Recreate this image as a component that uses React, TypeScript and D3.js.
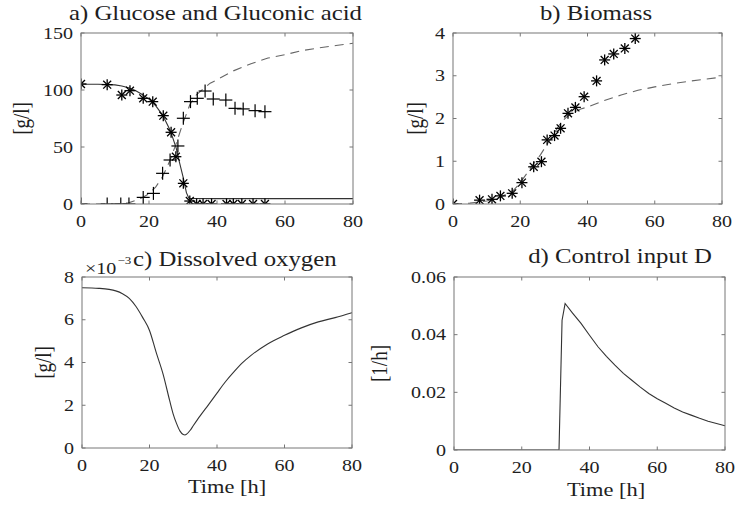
import React from "react";
import * as d3 from "d3";

// ---------- data ----------
const glucoseModelT = [0, 5, 10, 12, 14, 16, 18, 20, 22, 24, 26, 27, 28, 29, 30, 30.5, 31, 31.7, 32, 40, 50, 60, 70, 80];
const glucoseModelV = [105, 105, 104.5, 103.5, 102, 99.5, 96, 92, 86, 78, 66, 58, 49, 36, 24, 17, 10, 5.2, 4.8, 4.7, 4.7, 4.7, 4.7, 4.7];
const gluconicModelT = [0, 10, 12, 14, 16, 18, 20, 22, 24, 26, 28, 30, 32, 34, 36, 38, 40, 45, 50, 55, 60, 65, 70, 75, 80];
const gluconicModelV = [0, 0.1, 0.4, 1, 3, 5.5, 9, 15, 24, 37, 53, 71, 87, 96, 101, 106, 109, 117, 123, 128, 131, 134.5, 137, 139, 141];
const glucoseMeasT = [0, 7.7, 12, 14.4, 18.3, 21.1, 24.2, 26.5, 27.9, 30.1, 32, 34, 35.9, 38.4, 42.8, 44.8, 47.3, 50.6, 54.1];
const glucoseMeasV = [105.3, 104.7, 95.6, 99.4, 92.7, 89.8, 77.5, 62.9, 41.5, 18.1, 2.6, 0, 0, 0, 0, 0, 0, 0, 0];
const gluconicMeasT = [0, 7.7, 11.7, 14.1, 18.3, 21.3, 24, 26.2, 28.5, 30.1, 32.2, 34.2, 36.5, 38.9, 42.6, 45.3, 47.7, 51.2, 54.1];
const gluconicMeasV = [0, 0, 0, 0, 5.8, 9.3, 26.9, 38.6, 50.9, 75.2, 89.8, 92.7, 99.1, 92.1, 91.2, 83.9, 83.4, 81.9, 81];

const biomassModelT = [0, 5, 10, 14, 18, 20, 22, 24, 26, 28, 30, 32, 34, 36, 38, 40, 45, 50, 55, 60, 65, 70, 75, 80];
const biomassModelV = [0, 0.02, 0.07, 0.15, 0.32, 0.5, 0.72, 0.95, 1.15, 1.4, 1.64, 1.9, 2.05, 2.15, 2.22, 2.27, 2.42, 2.55, 2.66, 2.74, 2.81, 2.87, 2.92, 2.97];
const biomassMeasT = [0, 7.9, 11.6, 14.1, 17.6, 20.5, 24, 26.3, 28, 30.2, 32, 34.2, 36.4, 39, 42.7, 45.1, 47.8, 51.1, 54.2];
const biomassMeasV = [0, 0.09, 0.11, 0.19, 0.25, 0.5, 0.87, 0.99, 1.5, 1.6, 1.77, 2.12, 2.26, 2.51, 2.88, 3.37, 3.51, 3.64, 3.87];

const oxygenT = [0, 5, 8, 10, 12, 14, 16, 18, 20, 22, 24, 26, 27, 28, 29, 30, 30.5, 31, 32, 33, 35, 37.5, 40, 42.5, 45, 47.5, 50, 55, 60, 65, 70, 75, 80];
const oxygenV = [7.5, 7.47, 7.42, 7.35, 7.22, 7.0, 6.62, 6.1, 5.5, 4.46, 3.47, 2.2, 1.6, 1.15, 0.8, 0.63, 0.61, 0.65, 0.82, 1.05, 1.5, 2.03, 2.57, 3.1, 3.56, 3.98, 4.32, 4.87, 5.27, 5.62, 5.9, 6.1, 6.33];

const controlT = [0, 31, 31.9, 32.8, 35, 37.5, 40, 42.5, 45, 47.5, 50, 52.5, 55, 57.5, 60, 62.5, 65, 67.5, 70, 72.5, 75, 77.5, 80];
const controlV = [0, 0, 0.045, 0.0508, 0.0475, 0.0439, 0.0398, 0.0358, 0.0325, 0.0294, 0.0266, 0.0242, 0.0218, 0.0196, 0.0178, 0.0162, 0.0146, 0.0132, 0.0121, 0.011, 0.01, 0.0092, 0.0084];

const xTicks = [0, 20, 40, 60, 80];
const yTicksA = [0, 50, 100, 150];
const yTicksB = [0, 1, 2, 3, 4];
const yTicksC = [0, 2, 4, 6, 8];
const yTicksD = [0, 0.02, 0.04, 0.06];
const yTickLabelsD = ["0", "0.02", "0.04", "0.06"];

const titles = ["a) Glucose and Gluconic acid", "b) Biomass", "c) Dissolved oxygen", "d) Control input D"];

// ---------- styles ----------
const FONT = "Liberation Serif, Tinos, Times New Roman, DejaVu Serif, serif";
const TXT = "#1e1e1e";
const BOX = "#777";
const LINE = "#333";
const DASH = "#666";
const SX = 1.18;

type Box = { l: number; r: number; t: number; b: number };

function zip(t: number[], v: number[]) {
  return t.map((x, i) => [x, v[i]] as [number, number]);
}

function T({ x, y, size, anchor = "start", rot = false, children }: {
  x: number; y: number; size: number; anchor?: "start" | "middle" | "end"; rot?: boolean; children: React.ReactNode;
}) {
  return (
    <g transform={`translate(${x},${y}) scale(${SX},1)${rot ? " rotate(-90)" : ""}`}>
      <text x={0} y={0} textAnchor={anchor} dominantBaseline={rot ? "central" : undefined} fontFamily={FONT} fontSize={size} fill={TXT}>
        {children}
      </text>
    </g>
  );
}

function Asterisk({ x, y }: { x: number; y: number }) {
  const r = 5.5;
  const d = r * 0.72;
  return (
    <g stroke="#000" strokeWidth={1.3}>
      <line x1={x - r} y1={y} x2={x + r} y2={y} />
      <line x1={x} y1={y - r} x2={x} y2={y + r} />
      <line x1={x - d} y1={y - d} x2={x + d} y2={y + d} />
      <line x1={x - d} y1={y + d} x2={x + d} y2={y - d} />
    </g>
  );
}

function Plus({ x, y }: { x: number; y: number }) {
  const r = 6.5;
  return (
    <g stroke="#000" strokeWidth={1.2}>
      <line x1={x - r} y1={y} x2={x + r} y2={y} />
      <line x1={x} y1={y - r} x2={x} y2={y + r} />
    </g>
  );
}

function Panel({
  box, yDomain, yTicks, yLabels, ylabel, ylabelX, children, id,
}: {
  box: Box; yDomain: [number, number]; yTicks: number[]; yLabels?: string[]; ylabel: string;
  ylabelX: number; id: string;
  children: (x: d3.ScaleLinear<number, number>, y: d3.ScaleLinear<number, number>) => React.ReactNode;
}) {
  const x = d3.scaleLinear().domain([0, 80]).range([box.l, box.r]);
  const y = d3.scaleLinear().domain(yDomain).range([box.b, box.t]);
  const tl = 3.5;
  return (
    <g>
      <defs>
        <clipPath id={id}>
          <rect x={box.l} y={box.t - 7} width={box.r - box.l} height={box.b - box.t + 7} />
        </clipPath>
      </defs>
      <rect x={box.l} y={box.t} width={box.r - box.l} height={box.b - box.t} fill="white" />
      <g clipPath={`url(#${id})`}>{children(x, y)}</g>
      <rect x={box.l} y={box.t} width={box.r - box.l} height={box.b - box.t} fill="none" stroke={BOX} strokeWidth={1} />
      {xTicks.map((t) => (
        <g key={"x" + t}>
          <line x1={x(t)} x2={x(t)} y1={box.b} y2={box.b - tl} stroke={BOX} />
          <line x1={x(t)} x2={x(t)} y1={box.t} y2={box.t + tl} stroke={BOX} />
          <T x={x(t)} y={box.b + 23} size={17} anchor="middle">{t}</T>
        </g>
      ))}
      {yTicks.map((t, i) => (
        <g key={"y" + t}>
          <line x1={box.l} x2={box.l + tl} y1={y(t)} y2={y(t)} stroke={BOX} />
          <line x1={box.r} x2={box.r - tl} y1={y(t)} y2={y(t)} stroke={BOX} />
          <T x={box.l - 8} y={y(t) + 5.5} size={17} anchor="end">{yLabels ? yLabels[i] : t}</T>
        </g>
      ))}
      <T x={ylabelX} y={(box.t + box.b) / 2} size={19} anchor="middle" rot>{ylabel}</T>
    </g>
  );
}

export default function App() {
  const boxA: Box = { l: 81, r: 353, t: 33, b: 204 };
  const boxB: Box = { l: 453, r: 722, t: 33, b: 204 };
  const boxC: Box = { l: 82, r: 352, t: 277, b: 448 };
  const boxD: Box = { l: 454, r: 725, t: 277, b: 450 };

  const mk = (x: d3.ScaleLinear<number, number>, y: d3.ScaleLinear<number, number>) =>
    d3.line<[number, number]>().x((p) => x(p[0])).y((p) => y(p[1]));

  return (
    <svg width={736} height={505} style={{ position: "absolute", left: 0, top: 0, background: "white" }}>
      <rect width={736} height={505} fill="white" />
      <Panel box={boxA} yDomain={[0, 150]} yTicks={yTicksA} ylabel="[g/l]" ylabelX={21} id="ca">
        {(x, y) => (
          <g>
            <path d={mk(x, y)(zip(glucoseModelT, glucoseModelV)) || ""} fill="none" stroke={LINE} strokeWidth={1.1} />
            <path d={mk(x, y)(zip(gluconicModelT, gluconicModelV)) || ""} fill="none" stroke={DASH} strokeWidth={1.1} strokeDasharray="9,6" />
            {glucoseMeasT.map((t, i) => <Asterisk key={"g" + i} x={x(t)} y={y(glucoseMeasV[i])} />)}
            {gluconicMeasT.map((t, i) => <Plus key={"p" + i} x={x(t)} y={y(gluconicMeasV[i])} />)}
          </g>
        )}
      </Panel>
      <Panel box={boxB} yDomain={[0, 4]} yTicks={yTicksB} ylabel="[g/l]" ylabelX={415} id="cb">
        {(x, y) => (
          <g>
            <path d={mk(x, y)(zip(biomassModelT, biomassModelV)) || ""} fill="none" stroke={DASH} strokeWidth={1.1} strokeDasharray="9,6" />
            {biomassMeasT.map((t, i) => <Asterisk key={"b" + i} x={x(t)} y={y(biomassMeasV[i])} />)}
          </g>
        )}
      </Panel>
      <Panel box={boxC} yDomain={[0, 8]} yTicks={yTicksC} ylabel="[g/l]" ylabelX={43} id="cc">
        {(x, y) => (
          <path d={mk(x, y).curve(d3.curveMonotoneX)(zip(oxygenT, oxygenV)) || ""} fill="none" stroke={LINE} strokeWidth={1.1} />
        )}
      </Panel>
      <Panel box={boxD} yDomain={[0, 0.06]} yTicks={yTicksD} yLabels={yTickLabelsD} ylabel="[1/h]" ylabelX={379} id="cd">
        {(x, y) => (
          <path d={mk(x, y)(zip(controlT, controlV)) || ""} fill="none" stroke={LINE} strokeWidth={1.1} />
        )}
      </Panel>
      {/* x labels */}
      <T x={227} y={493} size={19} anchor="middle">Time [h]</T>
      <T x={606} y={496} size={19} anchor="middle">Time [h]</T>
      {/* titles */}
      <T x={215.5} y={20} size={21} anchor="middle">{titles[0]}</T>
      <T x={596} y={20} size={21} anchor="middle">{titles[1]}</T>
      <T x={133} y={266} size={21}>{titles[2]}</T>
      <T x={620} y={263} size={21} anchor="middle">{titles[3]}</T>
      {/* exponent marker */}
      <T x={85} y={274} size={17}>×10</T>
      <T x={117.5} y={264} size={11}>−3</T>
    </svg>
  );
}
